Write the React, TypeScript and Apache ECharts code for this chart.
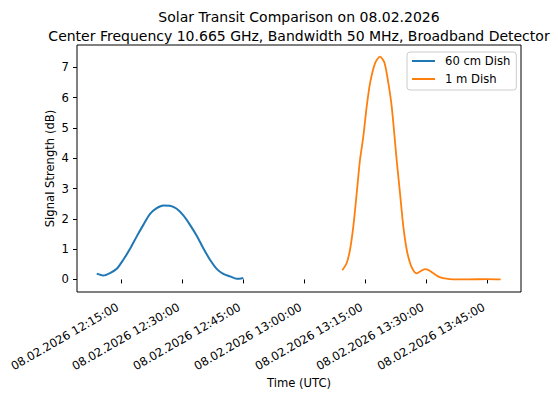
import React, { useEffect, useRef } from "react";
import * as echarts from "echarts";

const DATE = "08.02.2026";
const TITLE_1 = "Solar Transit Comparison on 08.02.2026";
const TITLE_2 = "Center Frequency 10.665 GHz, Bandwidth 50 MHz, Broadband Detector";
const X_NAME = "Time (UTC)";
const Y_NAME = "Signal Strength (dB)";

const X_TICKS = ["12:15:00", "12:30:00", "12:45:00", "13:00:00", "13:15:00", "13:30:00", "13:45:00"];
const Y_TICKS = [0, 1, 2, 3, 4, 5, 6, 7];
const X_MIN = "12:04:11";
const X_MAX = "13:53:17";
const Y_MIN = -0.415;
const Y_MAX = 7.735;

const SERIES_NAMES = ["60 cm Dish", "1 m Dish"];

const dish60Times = [
  "12:09:02", "12:10:39", "12:12:18", "12:13:57", "12:15:34", "12:17:13", "12:18:52", "12:20:29",
  "12:22:08", "12:23:46", "12:25:24", "12:27:02", "12:28:41", "12:30:19", "12:31:57", "12:33:36",
  "12:35:13", "12:36:52", "12:38:31", "12:40:08", "12:41:47", "12:43:26", "12:45:03",
];
const dish60Values = [
  0.19, 0.13, 0.21, 0.35, 0.65, 1.01, 1.42, 1.8,
  2.16, 2.35, 2.44, 2.43, 2.33, 2.11, 1.8, 1.44,
  1.03, 0.65, 0.35, 0.18, 0.1, 0.02, 0.05,
];

const dish1mTimes = [
  "13:09:22", "13:10:27", "13:11:16", "13:12:05", "13:12:55", "13:13:43", "13:14:32", "13:15:22",
  "13:16:11", "13:17:25", "13:18:38", "13:19:44", "13:20:36", "13:21:31", "13:22:44", "13:23:33",
  "13:24:22", "13:25:12", "13:26:01", "13:26:44", "13:27:36", "13:28:28", "13:29:41", "13:30:41",
  "13:31:40", "13:32:53", "13:34:07", "13:35:50", "13:40:00", "13:45:00", "13:48:17",
];
const dish1mValues = [
  0.3, 0.54, 0.98, 1.75, 2.85, 3.94, 4.71, 5.7,
  6.47, 7.13, 7.35, 7.15, 6.55, 5.7, 3.94, 2.85,
  1.75, 0.98, 0.54, 0.32, 0.2, 0.26, 0.34, 0.3,
  0.21, 0.1, 0.04, 0.01, 0.0, 0.01, 0.0,
];

const toMin = (t: string) => {
  const [h, m, s] = t.split(":").map(Number);
  return (h - 12) * 60 + m + s / 60;
};
const fmtMin = (v: number) => {
  const total = Math.round(v * 60);
  const h = 12 + Math.floor(total / 3600);
  const m = Math.floor((total % 3600) / 60);
  const s = total % 60;
  const p = (n: number) => String(n).padStart(2, "0");
  return `${DATE} ${p(h)}:${p(m)}:${p(s)}`;
};

const FONT = "DejaVu Sans";

export default function App() {
  const ref = useRef<HTMLDivElement>(null);
  useEffect(() => {
    if (!ref.current) return;
    const chart = echarts.init(ref.current, undefined, { renderer: "svg" });
    const xTickVals = X_TICKS.map(toMin);
    chart.setOption({
      animation: false,
      backgroundColor: "#fff",
      textStyle: { fontFamily: FONT },
      grid: {
        left: 77,
        top: 45,
        right: 37,
        bottom: 105,
        show: true,
        borderColor: "#000",
        borderWidth: 1,
        backgroundColor: "transparent",
      },
      legend: {
        orient: "vertical",
        left: 407,
        top: 52,
        padding: [2, 6, 4, 5],
        itemGap: 4,
        itemWidth: 23,
        itemHeight: 2,
        icon: "rect",
        backgroundColor: "rgba(255,255,255,0.8)",
        borderColor: "#cccccc",
        borderWidth: 1,
        borderRadius: 3,
        textStyle: { fontFamily: FONT, fontSize: 11.6, color: "#000", lineHeight: 14, padding: [0, 0, 0, 5] },
        data: SERIES_NAMES,
      },
      xAxis: {
        type: "value",
        min: toMin(X_MIN),
        max: toMin(X_MAX),
        splitLine: { show: false },
        axisLine: { show: false },
        axisTick: { show: true, inside: false, length: 4, customValues: xTickVals, lineStyle: { color: "#000", width: 1 } },
        axisLabel: {
          customValues: xTickVals,
          rotate: 30,
          margin: 12,
          padding: [0, 4, 0, 0],
          fontFamily: FONT,
          fontSize: 11.6,
          color: "#000",
          formatter: (v: number) => fmtMin(v),
        },
      },
      yAxis: {
        type: "value",
        min: Y_MIN,
        max: Y_MAX,
        splitLine: { show: false },
        axisLine: { show: false },
        axisTick: { show: true, inside: false, length: 4, customValues: Y_TICKS, lineStyle: { color: "#000", width: 1 } },
        axisLabel: {
          customValues: Y_TICKS,
          margin: 8,
          fontFamily: FONT,
          fontSize: 11.6,
          color: "#000",
          formatter: (v: number) => String(Math.round(v)),
        },
      },
      series: [
        {
          name: SERIES_NAMES[0],
          type: "line",
          data: dish60Times.map((t, i) => [toMin(t), dish60Values[i]]),
          showSymbol: false,
          smooth: 0.25,
          lineStyle: { color: "#1f77b4", width: 2 },
          itemStyle: { color: "#1f77b4" },
        },
        {
          name: SERIES_NAMES[1],
          type: "line",
          data: dish1mTimes.map((t, i) => [toMin(t), dish1mValues[i]]),
          showSymbol: false,
          smooth: 0.25,
          lineStyle: { color: "#ff7f0e", width: 1.8 },
          itemStyle: { color: "#ff7f0e" },
        },
      ],
      graphic: [
        {
          type: "text",
          x: 299,
          y: 16.6,
          style: { text: TITLE_1, fontFamily: FONT, fontSize: 14, fill: "#000", align: "center", verticalAlign: "middle" },
        },
        {
          type: "text",
          x: 299,
          y: 36.2,
          style: { text: TITLE_2, fontFamily: FONT, fontSize: 14, fill: "#000", align: "center", verticalAlign: "middle" },
        },
        {
          type: "text",
          x: 299,
          y: 383,
          style: { text: X_NAME, fontFamily: FONT, fontSize: 11.6, fill: "#000", align: "center", verticalAlign: "middle" },
        },
        {
          type: "text",
          x: 50,
          y: 168.5,
          rotation: Math.PI / 2,
          style: { text: Y_NAME, fontFamily: FONT, fontSize: 11.6, fill: "#000", align: "center", verticalAlign: "middle" },
        },
      ],
    });
    return () => chart.dispose();
  }, []);
  return <div ref={ref} style={{ width: 558, height: 397, position: "absolute", left: 0, top: 0 }} />;
}
